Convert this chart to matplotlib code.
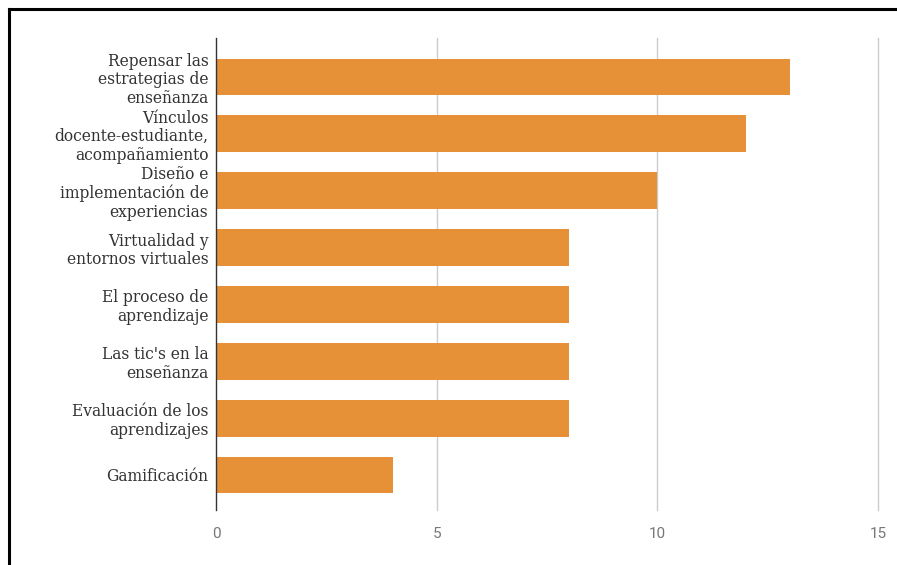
import matplotlib
matplotlib.use("Agg")
import matplotlib.pyplot as plt
from matplotlib.lines import Line2D

categories = [
    "Repensar las\nestrategias de\nenseñanza",
    "Vínculos\ndocente-estudiante,\nacompañamiento",
    "Diseño e\nimplementación de\nexperiencias",
    "Virtualidad y\nentornos virtuales",
    "El proceso de\naprendizaje",
    "Las tic's en la\nenseñanza",
    "Evaluación de los\naprendizajes",
    "Gamificación",
]
values = [13, 12, 10, 8, 8, 8, 8, 4]
xticks = [0, 5, 10, 15]

W, H = 897, 565
fig = plt.figure(figsize=(W / 100, H / 100), dpi=100)
ax = fig.add_axes([216 / W, 1 - 510 / H, (878 - 216) / W, (510 - 38) / H])

pos = list(range(len(categories)))
ax.barh(pos, values, height=0.65, color="#E69138", zorder=3)
ax.set_xlim(0, 15)
ax.set_ylim(7.616, -0.686)
ax.set_yticks(pos)
ax.set_yticklabels(categories, family="DejaVu Serif", fontsize=11.2,
                   color="#333333", linespacing=1.12)
ax.set_xticks(xticks)
ax.set_xticklabels([str(t) for t in xticks], family="Roboto", fontsize=11,
                   color="#777777")
ax.tick_params(axis="y", length=0, pad=5.5)
ax.tick_params(axis="x", length=0, pad=12)
for t in xticks[1:]:
    ax.axvline(t, color="#cccccc", lw=1, zorder=1, clip_on=False)
for s in ["top", "right", "bottom"]:
    ax.spines[s].set_visible(False)
ax.spines["left"].set_color("#333333")
ax.spines["left"].set_linewidth(1)
ax.spines["left"].set_zorder(4)

fig.add_artist(Line2D([9 / W, 9 / W], [0, 1 - 9 / H], transform=fig.transFigure,
                      color="black", lw=2.2))
fig.add_artist(Line2D([9 / W, 1], [1 - 9 / H, 1 - 9 / H], transform=fig.transFigure,
                      color="black", lw=2.2))

fig.savefig("out.png", dpi=100)
